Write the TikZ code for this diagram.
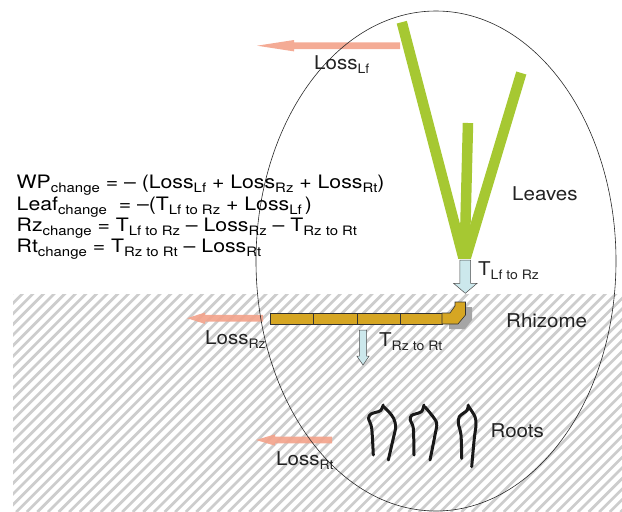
\documentclass[tikz,border=0pt]{standalone}
\usepackage{fontspec}
\setmainfont{TeX Gyre Heros}[FakeStretch=1.08]
\newfontfamily\eqfont{TeX Gyre Heros}[FakeStretch=1.148]
\definecolor{leafgreen}{RGB}{166,200,50}
\definecolor{rhizgold}{RGB}{214,166,35}
\definecolor{lossred}{RGB}{243,162,138}
\definecolor{flowblue}{RGB}{204,232,236}
\definecolor{hatchgray}{RGB}{205,205,205}
\definecolor{shadowgray}{RGB}{165,165,165}
\definecolor{inkgray}{RGB}{35,35,35}
% subscript set in a smaller size, slightly lowered
\newcommand\sbs[1]{\raisebox{-0.22em}{\fontsize{13}{13}\selectfont #1}}
% loss arrow pointing left: tail x, tip x, head base x, centre y
\newcommand\lossarrow[4]{%
  \fill[lossfill] (#1,#4-3.4) -- (#3,#4-3.4) -- (#3,#4-5.7) -- (#2,#4)
    -- (#3,#4+5.7) -- (#3,#4+3.4) -- (#1,#4+3.4) -- cycle;}
% transfer arrow pointing down: centre x, top y, head base y, tip y, shaft half width, head half width
\newcommand\flowarrow[6]{%
  \filldraw[flowfill] (#1-#5,#2) -- (#1+#5,#2) -- (#1+#5,#3) -- (#1+#6,#3) -- (#1,#4)
    -- (#1-#6,#3) -- (#1-#5,#3) -- cycle;}
\tikzset{
  lbl/.style={inner sep=0pt, anchor=base west, text=inkgray, font=\fontsize{19}{19}\selectfont},
  eqn/.style={inner sep=0pt, anchor=base west, text=black, font=\eqfont\fontsize{18.5}{18.5}\selectfont},
  lossfill/.style={fill=lossred, fill opacity=0.9},
  flowfill/.style={fill=flowblue, draw=black!70, line width=0.5pt},
  blade/.style={draw=leafgreen, line width=10.5pt, line cap=butt},
  root/.style={draw=black!90, line width=3pt, line cap=round, line join=round},
  segment/.style={fill=rhizgold, draw=black!80, line width=0.6pt},
}
\begin{document}
\begin{tikzpicture}[x=1pt,y=-1pt]
\useasboundingbox (0,0) rectangle (622,512);

% soil: grey diagonal hatching
\begin{scope}
  \clip (13,294) rectangle (622,512);
  \foreach \k in {0,...,80} {
    \draw[hatchgray, line width=2.7pt] (13+\k*10.6-230,512) -- (13+\k*10.6,282);
  }
\end{scope}

% leaves
\begin{scope}
  \clip (380,0) rectangle (560,258);
  \coordinate (base) at (464.5,262);
  \draw[blade] (401.8,22.2) -- (base);
  \draw[blade] (468,123) -- (base);
  \draw[blade] (521.3,73) -- (base);
\end{scope}

% rhizome with its shadowed upturned tip
\fill[shadowgray] (449,318) -- (457,318) -- (462,311) -- (462,307) -- (472,307)
  -- (472,320) -- (465,329) -- (449,329) -- cycle;
\foreach \a/\b in {270/313, 313/357, 357/400, 400/442} {
  \filldraw[segment] (\a,313) rectangle (\b,324);
}
\filldraw[segment] (442,313) -- (450,313) -- (455,306) -- (455,302) -- (465.5,302)
  -- (465.5,315) -- (458,324) -- (442,324) -- cycle;

% roots
\draw[root] plot[smooth] coordinates {(373.3,455) (371.7,428.3) (368.5,418.3) (371,414) (376,412.3) (380.7,410.5) (383.3,405)};
\draw[root] plot[smooth] coordinates {(384,407) (389,412) (393.6,418.3) (395.7,426.7) (393.3,438.3) (388.3,460)};
\draw[root] plot[smooth] coordinates {(414,455) (413.3,428.3) (410.2,420) (411.5,415.5) (416,413.8) (421.7,411.5) (424,405)};
\draw[root] plot[smooth] coordinates {(425,407) (431.7,415) (436.7,423.3) (435,435) (430,460)};
\draw[root] plot[smooth] coordinates {(461.7,458.3) (461,435) (458.3,423.3) (459.3,416.7) (463.3,413.3) (467.3,410) (468.3,405)};
\draw[root] plot[smooth] coordinates {(469,407) (475,416.7) (476,425) (474.3,438.3) (471.7,466.7)};

% losses
\lossarrow{400}{257}{294}{45.7}
\lossarrow{263}{187}{205}{318.2}
\lossarrow{332}{256}{275}{440}

% transfers
\flowarrow{465.3}{260}{283.3}{293.3}{5.4}{11.8}
\flowarrow{363}{330}{356}{365}{3.7}{6.2}

% whole-plant boundary
\draw[black!85, line width=0.6pt] (436,261) ellipse [x radius=180, y radius=250];

% labels
\node[lbl] (lLf) at (314,69) {Loss\sbs{Lf}};
\node[lbl] (lRz) at (205,344) {Loss\sbs{Rz}};
\node[lbl] (lRt) at (276,465) {Loss\sbs{Rt}};
\node[lbl] (tLf) at (478,275) {T\sbs{Lf to Rz}};
\node[lbl] (tRz) at (379,346.7) {T\sbs{Rz to Rt}};
\node[lbl] (leaves) at (512,200) {Leaves};
\node[lbl] (rhizome) at (506,327) {Rhizome};
\node[lbl] (roots) at (490.5,437) {Roots};

% balance equations
\node[eqn] (eq1) at (16.5,188.3) {WP\sbs{change} = – (Loss\sbs{Lf} + Loss\sbs{Rz} + Loss\sbs{Rt})};
\node[eqn] (eq2) at (16.5,210) {Leaf\sbs{change}\ \ = –(T\sbs{Lf to Rz} + Loss\sbs{Lf}\,)};
\node[eqn] (eq3) at (16.5,231.7) {Rz\sbs{change} = T\sbs{Lf to Rz} – Loss\sbs{Rz} – T\sbs{Rz to Rt}};
\node[eqn] (eq4) at (16.5,252.3) {Rt\sbs{change} = T\sbs{Rz to Rt} – Loss\sbs{Rt}};
\end{tikzpicture}
\end{document}
